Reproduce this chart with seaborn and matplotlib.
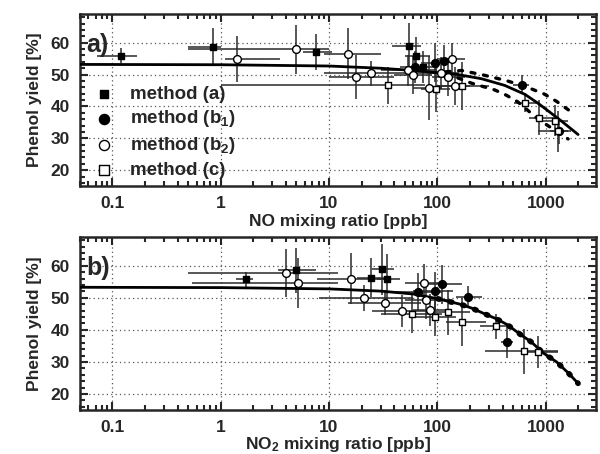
#!/usr/bin/env python3
"""
Phenol yield versus NO and NO2 mixing ratio, two stacked panels.
"""

import matplotlib

matplotlib.use("Agg")
import matplotlib.pyplot as plt
import pandas as pd
import seaborn as sns
from matplotlib.ticker import FixedLocator, LogLocator, MultipleLocator, NullFormatter

# each row: x [ppb], yield [%], x low, x high, yield error
NO_A = [
    (0.12, 55.9, 0.072, 0.17, 2.4),
    (0.85, 58.7, 0.50, 1.0, 6.0),
    (7.5, 57.1, 5.8, 10.6, 5.7),
    (55, 59.1, 38, 71, 7.0),
    (64, 55.8, 50, 85, 6.0),
    (74, 52.5, 55, 95, 5.0),
]
NO_B1 = [
    (62, 52.5, 45, 80, 5.0),
    (95, 53.8, 70, 120, 6.0),
    (115, 54.2, 90, 140, 5.0),
    (607, 46.8, 500, 700, 3.0),
    (1330, 32.3, 1100, 1600, 4.0),
]
NO_B2 = [
    (1.4, 54.9, 1.1, 3.5, 7.2),
    (5.0, 57.9, 0.5, 10, 7.8),
    (14.8, 56.5, 9, 30, 8.0),
    (17.7, 49.2, 10, 40, 7.0),
    (24.5, 50.4, 9, 157, 4.0),
    (54, 51.3, 30, 100, 5.0),
    (60, 49.9, 40, 90, 6.0),
    (84, 45.7, 60, 110, 10.0),
    (109, 50.4, 80, 150, 5.0),
    (126, 49.2, 90, 180, 6.0),
    (135, 54.8, 100, 180, 5.0),
    (146, 46.5, 100, 200, 6.0),
]
NO_C = [
    (35, 46.6, 1.0, 77, 5.7),
    (97, 45.4, 70, 130, 7.0),
    (169, 46.5, 100, 300, 7.5),
    (650, 41.2, 510, 820, 3.0),
    (870, 36.4, 700, 1300, 5.5),
    (1210, 35.6, 900, 1600, 5.0),
    (1310, 32.2, 850, 1700, 6.5),
]

NO2_A = [
    (1.7, 55.8, 1.37, 2.0, 2.3),
    (5.0, 58.6, 3.4, 7.5, 7.0),
    (24.5, 56.3, 18, 32, 6.0),
    (30.5, 58.9, 25, 40, 8.0),
    (34.5, 55.8, 28, 45, 8.0),
]
NO2_B1 = [
    (66.8, 51.8, 40, 110, 6.0),
    (95, 52.1, 60, 140, 6.0),
    (111, 54.2, 80, 170, 6.0),
    (193, 50.2, 150, 260, 3.5),
    (443, 36.1, 390, 500, 5.0),
]
NO2_B2 = [
    (4.0, 57.8, 0.5, 12, 7.5),
    (5.2, 54.6, 0.54, 12, 7.7),
    (16, 56.0, 7.7, 35, 8.0),
    (21.2, 50.0, 8, 60, 4.0),
    (32.8, 48.5, 15, 70, 4.0),
    (47.5, 45.9, 25, 90, 5.0),
    (75, 54.6, 50, 110, 6.0),
    (78.6, 49.3, 50, 130, 6.0),
    (86, 46.3, 60, 130, 5.0),
]
NO2_C = [
    (58, 45.1, 30, 110, 6.0),
    (95, 44.1, 60, 150, 6.0),
    (124, 45.5, 80, 200, 7.0),
    (170, 42.6, 120, 280, 7.5),
    (350, 41.1, 250, 480, 4.0),
    (633, 33.3, 275, 1300, 7.0),
    (852, 33.0, 600, 1300, 5.0),
]

# fit curves
FIT_NO_X = [0.05, 1, 10, 30, 60, 101, 156, 256, 419, 643, 850, 1000, 1400, 1990]
FIT_NO_Y = [53.2, 53.1, 52.7, 52.0, 51.3, 50.6, 50.0, 48.7, 46.6, 43.8, 41.0, 39.2, 35.4, 31.2]
UPPER_NO_X = [120, 167, 264, 435, 669, 970, 1260, 1640]
UPPER_NO_Y = [50.9, 51.3, 49.9, 48.1, 46.1, 43.9, 41.6, 38.8]
LOWER_NO_X = [120, 156, 207, 338, 435, 555, 852, 1610]
LOWER_NO_Y = [50.3, 48.9, 47.3, 45.2, 43.5, 41.4, 36.0, 29.8]

FIT_NO2_X = [0.05, 1, 10, 30, 60, 101, 163, 207, 265, 353, 443, 577, 738, 947, 1260, 1610, 1990]
FIT_NO2_Y = [53.3, 53.2, 52.8, 52.1, 51.2, 49.7, 48.0, 46.8, 45.2, 43.4, 41.6, 38.7, 36.2, 32.8, 30.0, 26.6, 23.3]

METHODS = ["method (a)", r"method (b$_1$)", r"method (b$_2$)", "method (c)"]
MARKERS = {METHODS[0]: "s", METHODS[1]: "o", METHODS[2]: "o", METHODS[3]: "s"}
FACES = {METHODS[0]: "black", METHODS[1]: "black", METHODS[2]: "white", METHODS[3]: "white"}
SIZES = {METHODS[0]: 4.6, METHODS[1]: 5.6, METHODS[2]: 5.6, METHODS[3]: 5.0}


def to_frame(groups):
    rows = []
    for label, data in zip(METHODS, groups):
        for x, y, xlo, xhi, yerr in data:
            rows.append({"x": x, "y": y, "xlo": xlo, "xhi": xhi, "yerr": yerr, "method": label})
    return pd.DataFrame(rows)


def style_axis(ax, xlabel, tag, xpad):
    ax.set_xscale("log")
    ax.set_xlim(0.05, 2900)
    ax.set_ylim(15, 69)
    ax.xaxis.set_major_locator(FixedLocator([0.1, 1, 10, 100, 1000]))
    ax.set_xticklabels(["0.1", "1", "10", "100", "1000"])
    ax.xaxis.set_minor_locator(LogLocator(base=10, subs=range(2, 10)))
    ax.xaxis.set_minor_formatter(NullFormatter())
    ax.yaxis.set_major_locator(MultipleLocator(10))
    ax.yaxis.set_minor_locator(MultipleLocator(2))
    ax.tick_params(which="both", direction="in", top=True, right=True, width=1.5,
                   labelsize=12.5, pad=7)
    ax.tick_params(which="major", length=6)
    ax.tick_params(which="minor", length=3.5)
    ax.grid(True, which="major", linestyle=(0, (1, 2.5)), color="#555555", linewidth=0.9)
    for s in ax.spines.values():
        s.set_linewidth(1.8)
    ax.set_xlabel(xlabel, fontsize=12.5, fontweight="bold", labelpad=xpad)
    ax.set_ylabel("Phenol yield [%]", fontsize=12.5, fontweight="bold", labelpad=6)
    ax.text(0.012, 0.82, tag, transform=ax.transAxes, fontsize=18, fontweight="bold",
            va="center", ha="left", zorder=6)


def draw_points(ax, df, legend):
    for label in METHODS:
        sub = df[df["method"] == label]
        ax.errorbar(sub["x"], sub["y"],
                    xerr=[sub["x"] - sub["xlo"], sub["xhi"] - sub["x"]],
                    yerr=sub["yerr"], fmt="none", ecolor="#2a2a2a", elinewidth=1.1,
                    capsize=0, zorder=2)
    for label in METHODS:
        sub = df[df["method"] == label]
        sns.scatterplot(data=sub, x="x", y="y", ax=ax, marker=MARKERS[label],
                        color=FACES[label], edgecolor="black", linewidth=1.0,
                        s=SIZES[label] ** 2, label=label if legend else None, zorder=5)


def dotted(ax, x, y, width, pattern):
    sns.lineplot(x=x, y=y, ax=ax, color="black", linewidth=width, zorder=4)
    line = ax.lines[-1]
    line.set_linestyle(pattern)
    line.set_dash_capstyle("round")


sns.set_theme(style="ticks")
plt.rcParams["font.family"] = ["Liberation Sans", "DejaVu Sans"]
plt.rcParams["font.weight"] = "bold"
plt.rcParams["mathtext.fontset"] = "custom"
plt.rcParams["mathtext.bf"] = "Liberation Sans:bold"
plt.rcParams["mathtext.rm"] = "Liberation Sans:bold"
plt.rcParams["mathtext.default"] = "bf"

fig = plt.figure(figsize=(6.0, 4.54), dpi=100)
ax1 = fig.add_axes([0.133, 0.590, 0.860, 0.379])
ax2 = fig.add_axes([0.133, 0.097, 0.860, 0.381])

# panel a: NO
draw_points(ax1, to_frame([NO_A, NO_B1, NO_B2, NO_C]), legend=True)
sns.lineplot(x=FIT_NO_X, y=FIT_NO_Y, ax=ax1, color="black", linewidth=2.0, zorder=4)
dotted(ax1, UPPER_NO_X, UPPER_NO_Y, 2.4, (0, (1.2, 2.6)))
dotted(ax1, LOWER_NO_X, LOWER_NO_Y, 2.4, (0, (1.2, 2.6)))
style_axis(ax1, "NO mixing ratio [ppb]", "a)", 2)
leg = ax1.legend(loc="upper left", bbox_to_anchor=(0.0, 0.66), frameon=False,
                 prop={"size": 13.5, "weight": "bold"}, handletextpad=0.8,
                 labelspacing=0.3, borderaxespad=0.3, handlelength=1.2,
                 markerscale=1.3)
leg.set_zorder(7)

# panel b: NO2
draw_points(ax2, to_frame([NO2_A, NO2_B1, NO2_B2, NO2_C]), legend=False)
sns.lineplot(x=FIT_NO2_X, y=FIT_NO2_Y, ax=ax2, color="black", linewidth=2.0, zorder=4)
dotted(ax2, FIT_NO2_X[5:], FIT_NO2_Y[5:], 4.0, (0, (0.3, 2.0)))
style_axis(ax2, r"NO$_2$ mixing ratio [ppb]", "b)", 0)

fig.savefig("out.png", dpi=100)
plt.close(fig)
